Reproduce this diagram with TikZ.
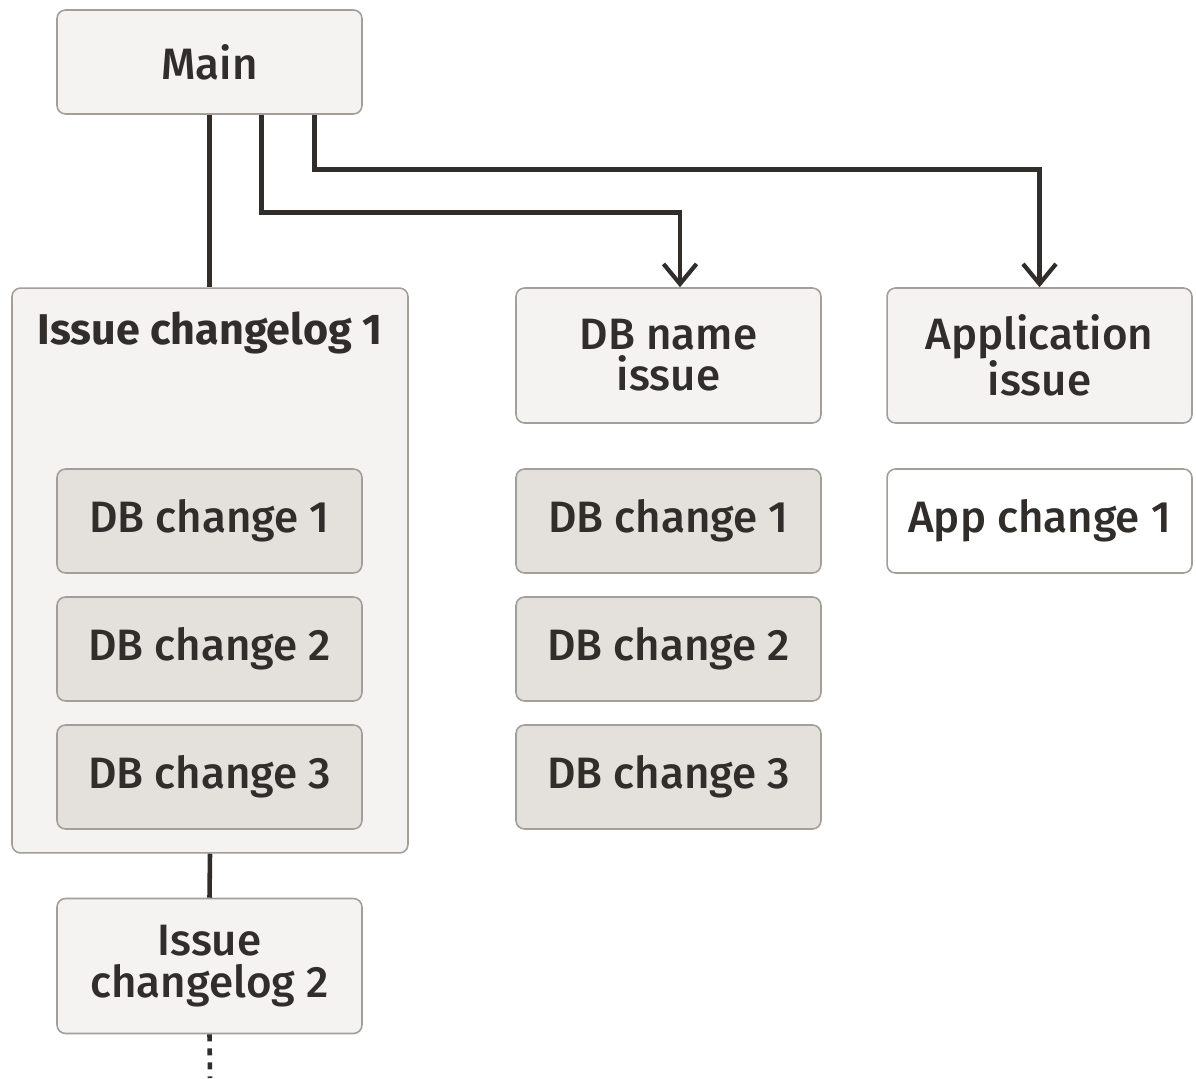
\documentclass[tikz,border=0pt]{standalone}
\usepackage{fontspec}
\setmainfont{Fira Sans}[UprightFont=* Medium, BoldFont=* Bold]
\usetikzlibrary{arrows.meta, positioning, calc}

\definecolor{ink}{HTML}{312D2A}
\definecolor{edge}{HTML}{A39E98}
\definecolor{paleFill}{HTML}{F4F3F1}
\definecolor{darkFill}{HTML}{E4E1DD}

\tikzset{
  box/.style={draw=edge, line width=0.9pt, rounded corners=0.17cm, fill=paleFill,
    minimum width=6.1cm, minimum height=2.08cm, align=center, text=ink,
    font=\fontsize{25}{23.5}\selectfont, inner sep=0pt},
  tallbox/.style={box, minimum height=2.7cm},
  change/.style={box, fill=darkFill},
  appchange/.style={box, fill=white},
  link/.style={draw=ink, line width=2.6pt},
  arrowlink/.style={link, -{Straight Barb[length=0.4cm, width=0.66cm, line width=2.4pt]}}
}

\begin{document}
\begin{tikzpicture}[x=0.02cm, y=-0.02cm]
      \useasboundingbox (0, 0) rectangle (1196, 1078);

      % top
      \node[box] (main) at (209.5, 62) {Main};

      % left column
      \node[box, minimum width=7.92cm, minimum height=11.3cm] (log1) at (210, 570.5) {};
      \node[text=ink, font=\fontsize{24.5}{23.5}\selectfont\bfseries, anchor=base] (log1title) at (210, 344) {Issue changelog 1};
      \node[change] (lchange1) at (209.5, 521) {DB change 1};
      \node[change] (lchange2) at (209.5, 649) {DB change 2};
      \node[change] (lchange3) at (209.5, 777) {DB change 3};
      \node[tallbox] (log2) at (209.5, 966) {Issue\\changelog 2};
      \coordinate (more) at (210, 1078);

      % middle column
      \node[tallbox] (dbissue) at (668.5, 355.5) {DB name\\issue};
      \node[change] (mchange1) at (668.5, 521) {DB change 1};
      \node[change] (mchange2) at (668.5, 649) {DB change 2};
      \node[change] (mchange3) at (668.5, 777) {DB change 3};

      % right column
      \node[tallbox] (appissue) at (1039.5, 355.5) {Application\\issue};
      \node[appchange] (appchange1) at (1039.5, 521) {App change 1};

      % connectors
      \draw[link] (main.south) -- (main.south |- log1.north);
      \draw[arrowlink] ($(main.south)+(52, 0)$) -- ++(0, 98) -| ($(dbissue.north)+(11.5, 0)$);
      \draw[arrowlink] ($(main.south)+(105, 0)$) -- ++(0, 55) -| (appissue.north);
      \draw[link] (log1.south) -- (log2.north);
      \draw[link, dash pattern=on 4pt off 4pt] (log2.south) -- (more);

    \end{tikzpicture}
\end{document}
